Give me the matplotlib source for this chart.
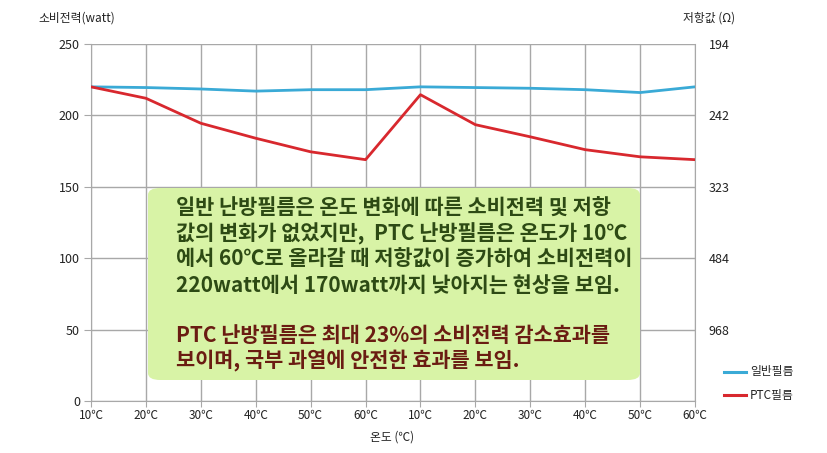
import matplotlib
matplotlib.use("Agg")
import matplotlib.pyplot as plt
from matplotlib.patches import FancyBboxPatch

plt.rcParams['font.family'] = ['Noto Sans CJK KR', 'DejaVu Sans']

categories = ['10℃', '20℃', '30℃', '40℃', '50℃', '60℃',
              '10℃', '20℃', '30℃', '40℃', '50℃', '60℃']
normal_film = [220, 219.5, 218.5, 217, 218, 218, 220, 219.5, 219, 218, 216, 220]
ptc_film = [220, 212, 194.5, 184, 174.5, 169, 214.5, 193.5, 185, 176, 171, 169]
left_ticks = [0, 50, 100, 150, 200, 250]
right_labels = ['', '968', '484', '323', '242', '194']

para1_lines = ['일반 난방필름은 온도 변화에 따른 소비전력 및 저항',
               '값의 변화가 없었지만,  PTC 난방필름은 온도가 10℃',
               '에서 60℃로 올라갈 때 저항값이 증가하여 소비전력이',
               '220watt에서 170watt까지 낮아지는 현상을 보임.']
para2_lines = ['PTC 난방필름은 최대 23%의 소비전력 감소효과를',
               '보이며, 국부 과열에 안전한 효과를 보임.']

fig = plt.figure(figsize=(8.28, 4.53), dpi=100)
ax = fig.add_axes([91/828, 1-401/453, (695-91)/828, (401-44)/453])

x = list(range(len(categories)))
blue = '#3aaad6'
red = '#d8282e'
ax.plot(x, normal_film, color=blue, lw=2.0, solid_capstyle='round', zorder=3)
ax.plot(x, ptc_film, color=red, lw=2.0, solid_capstyle='round', zorder=3)

ax.set_xlim(0, len(categories)-1)
ax.set_ylim(0, 250)
ax.set_xticks(x)
ax.set_xticklabels(categories, fontsize=8.5, color='#222222', fontweight='medium')
ax.set_yticks(left_ticks)
ax.set_yticklabels([str(t) for t in left_ticks], fontsize=9, color='#222222', fontweight='medium')
ax.grid(True, color='#a8a8a8', lw=1.0)
ax.set_axisbelow(True)
for s in ax.spines.values():
    s.set_color('#a8a8a8')
ax.spines['top'].set_visible(False)
ax.tick_params(axis='y', length=5, color='#a8a8a8', pad=3)
ax.tick_params(axis='x', length=4, color='#a8a8a8', pad=2)

ax2 = ax.twinx()
ax2.set_ylim(0, 250)
ax2.set_yticks(left_ticks)
ax2.set_yticklabels(right_labels, fontsize=9, color='#222222', fontweight='medium')
ax2.tick_params(axis='y', length=0, pad=10)
for s in ax2.spines.values():
    s.set_visible(False)

fig.text(38/828, 1-18/453, '소비전력(watt)', fontsize=8.5, ha='left', va='center', color='#222222', fontweight='medium')
fig.text(683/828, 1-18/453, '저항값 (Ω)', fontsize=8.5, ha='left', va='center', color='#222222', fontweight='medium')
fig.text(392/828, 1-437/453, '온도 (℃)', fontsize=8.5, ha='center', va='center', color='#222222', fontweight='medium')

# legend
fig.lines.append(plt.Line2D([724/828, 746/828], [1-372/453]*2, color=blue, lw=2.2, transform=fig.transFigure))
fig.lines.append(plt.Line2D([724/828, 746/828], [1-395/453]*2, color=red, lw=2.2, transform=fig.transFigure))
fig.text(750/828, 1-372/453, '일반필름', fontsize=8.5, ha='left', va='center', color='#222222', fontweight='medium')
fig.text(750/828, 1-395/453, 'PTC필름', fontsize=8.5, ha='left', va='center', color='#222222', fontweight='medium')

# annotation box
box = FancyBboxPatch((148/828, 1-380/453), (640-148)/828, (380-188)/453,
                     boxstyle='round,pad=0,rounding_size=0.015',
                     transform=fig.transFigure, facecolor='#d8f3a6', edgecolor='none', zorder=5)
fig.patches.append(box)

y1 = [208, 234, 259, 285]
y2 = [335, 361]
for line, yy in zip(para1_lines, y1):
    fig.text(176/828, 1-yy/453, line, fontsize=15, ha='left', va='center',
             color='#2d4a14', zorder=6, fontweight='bold')
for line, yy in zip(para2_lines, y2):
    fig.text(176/828, 1-yy/453, line, fontsize=15, ha='left', va='center',
             color='#6a1c12', zorder=6, fontweight='bold')

fig.savefig('out.png', dpi=100)
